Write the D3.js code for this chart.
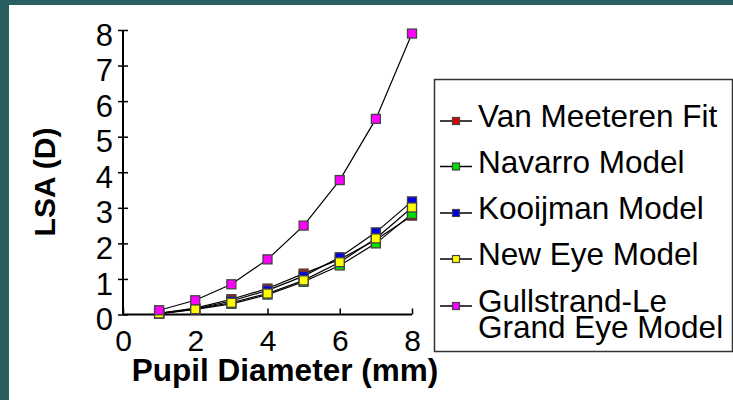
<!DOCTYPE html>
<html>
<head>
<meta charset="utf-8">
<script src="https://cdn.jsdelivr.net/npm/d3@7"></script>
<style>
  html, body { margin: 0; padding: 0; background: #2a5f60; }
  svg { display: block; }
</style>
</head>
<body>
<svg id="chart" width="733" height="400"></svg>
<script>
const pupil = [1, 2, 3, 4, 5, 6, 7, 8];
const vanMeeteren = [0.03, 0.18, 0.43, 0.73, 1.15, 1.55, 2.1, 2.78];
const navarro = [0.02, 0.14, 0.3, 0.56, 0.92, 1.38, 2.0, 2.83];
const kooijman = [0.03, 0.16, 0.38, 0.68, 1.08, 1.61, 2.31, 3.18];
const newEye = [0.03, 0.15, 0.33, 0.59, 0.96, 1.47, 2.14, 3.01];
const gullstrand = [0.12, 0.4, 0.85, 1.55, 2.5, 3.78, 5.5, 7.9];

const seriesNames = ['Van Meeteren Fit', 'Navarro Model', 'Kooijman Model', 'New Eye Model', 'Gullstrand-Le Grand Eye Model'];
const seriesColors = ['#e00000', '#00e000', '#0000e0', '#ffff00', '#ff00ff'];
const seriesValues = [vanMeeteren, navarro, kooijman, newEye, gullstrand];
const xTicks = [0, 2, 4, 6, 8];
const yTicks = [0, 1, 2, 3, 4, 5, 6, 7, 8];

const svg = d3.select('#chart');
const FONT = 'Liberation Sans, Arial, sans-serif';

// white panel
svg.append('rect')
  .attr('x', 9).attr('y', 5)
  .attr('width', 724).attr('height', 395)
  .attr('fill', '#fff');

const x = d3.scaleLinear().domain([0, 8]).range([123, 412]);
const y = d3.scaleLinear().domain([0, 8]).range([314.5, 30]);

// y axis
const yAxis = svg.append('g')
  .attr('transform', `translate(${x(0)},0)`)
  .call(d3.axisLeft(y).tickValues(yTicks).tickSize(5).tickPadding(5).tickFormat(d3.format('d')));
yAxis.select('.domain').attr('stroke-width', 2).attr('d', `M0,${y(8)}V${y(0)}`);
yAxis.selectAll('.tick line').attr('x1', 5).attr('x2', -5).attr('stroke-width', 1.5);
yAxis.selectAll('text')
  .attr('font-family', FONT).attr('font-size', 31).attr('fill', '#000')
  .attr('y', 4).attr('dy', '0.36em');

// x axis
const xAxis = svg.append('g')
  .attr('transform', `translate(0,${y(0)})`)
  .call(d3.axisBottom(x).tickValues(xTicks).tickSize(-6).tickPadding(8).tickFormat(d3.format('d')));
xAxis.select('.domain').attr('stroke-width', 2).attr('d', `M${x(0)},0H${x(8)}`);
xAxis.selectAll('.tick line').attr('stroke-width', 1.5);
xAxis.selectAll('.tick text')
  .attr('font-family', FONT).attr('font-size', 30).attr('fill', '#000')
  .attr('y', 15).attr('dy', '0.71em');

// axis titles
svg.append('text')
  .attr('x', 285).attr('y', 381)
  .attr('text-anchor', 'middle')
  .attr('font-family', FONT).attr('font-weight', 'bold').attr('font-size', 31.5)
  .text('Pupil Diameter (mm)');

svg.append('text')
  .attr('transform', 'translate(55,182) rotate(-90)')
  .attr('text-anchor', 'middle')
  .attr('font-family', FONT).attr('font-weight', 'bold').attr('font-size', 30)
  .text('LSA (D)');

// series
const line = d3.line().x((d, i) => x(pupil[i])).y(d => y(d));
const plot = svg.append('g');
seriesValues.forEach((vals, s) => {
  plot.append('path')
    .attr('d', line(vals))
    .attr('fill', 'none')
    .attr('stroke', '#000')
    .attr('stroke-width', 1.2);
});
seriesValues.forEach((vals, s) => {
  plot.append('g').selectAll('rect').data(vals).enter().append('rect')
    .attr('x', (d, i) => x(pupil[i]) - 4.5)
    .attr('y', d => y(d) - 4.5)
    .attr('width', 9).attr('height', 9)
    .attr('fill', seriesColors[s])
    .attr('stroke', '#444')
    .attr('stroke-width', 1.3);
});

// legend
const legend = svg.append('g');
legend.append('rect')
  .attr('x', 434.5).attr('y', 79.5)
  .attr('width', 298).attr('height', 272)
  .attr('fill', '#fff').attr('stroke', '#333').attr('stroke-width', 1.5);

const rowY = [121, 166.5, 213, 259, 306];
seriesNames.forEach((name, i) => {
  const g = legend.append('g').attr('transform', `translate(0,${rowY[i]})`);
  g.append('line').attr('x1', 440).attr('x2', 472).attr('y1', 0).attr('y2', 0)
    .attr('stroke', '#000').attr('stroke-width', 1.5);
  g.append('rect').attr('x', 452.5).attr('y', -3.5).attr('width', 7).attr('height', 7)
    .attr('fill', seriesColors[i]).attr('stroke', '#444').attr('stroke-width', 1.2);
  const t = g.append('text')
    .attr('x', 478).attr('y', 6)
    .attr('font-family', FONT).attr('font-size', 31.5).attr('fill', '#000');
  if (i === 4) {
    t.append('tspan').attr('x', 478).attr('y', 6).text('Gullstrand-Le');
    t.append('tspan').attr('x', 478).attr('y', 32).text('Grand Eye Model');
  } else {
    t.text(name);
  }
});
</script>
</body>
</html>
